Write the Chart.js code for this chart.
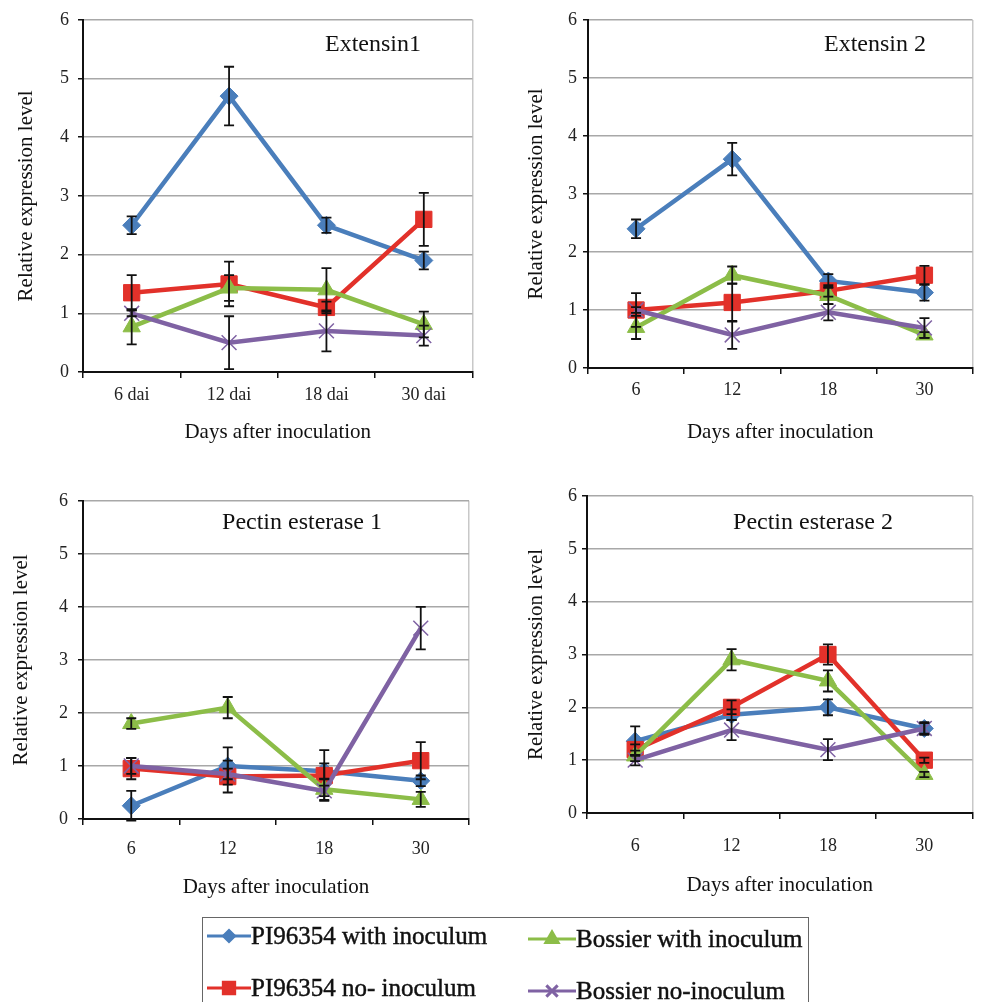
<!DOCTYPE html>
<html>
<head>
<meta charset="utf-8">
<script src="https://cdn.jsdelivr.net/npm/chart.js@4.4.1/dist/chart.umd.min.js"></script>
<style>
  body { margin: 0; background: #fff; width: 985px; height: 1002px; position: relative; overflow: hidden; font-family: 'Liberation Serif', 'Times New Roman', serif; }
  canvas.panel { position: absolute; }
  #legend { position: absolute; left: 202px; top: 917px; width: 607px; height: 100px; border: 1px solid #666; box-sizing: border-box; }
  .item { position: absolute; height: 30px; display: flex; align-items: center; font-size: 25px; color: #111; white-space: nowrap; -webkit-text-stroke: 0.45px #111; }
  .item canvas { display: block; }
</style>
</head>
<body>
<canvas id="c1" class="panel" width="485" height="450" style="left:0;top:0"></canvas>
<canvas id="c2" class="panel" width="495" height="450" style="left:490px;top:0"></canvas>
<canvas id="c3" class="panel" width="485" height="420" style="left:0;top:480px"></canvas>
<canvas id="c4" class="panel" width="495" height="420" style="left:490px;top:480px"></canvas>
<div id="legend"></div>

<script>
// categories
const daysDai = ['6 dai', '12 dai', '18 dai', '30 dai'];
const days = ['6', '12', '18', '30'];

// series
const seriesNames = ['PI96354 with inoculum', 'PI96354 no- inoculum', 'Bossier with inoculum', 'Bossier no-inoculum'];
const seriesColors = ['#4a7ebb', '#e2312a', '#8cbd48', '#7f62a3'];
const seriesStyles = ['rectRot', 'rect', 'triangle', 'crossRot'];

// Extensin1
const ext1PiInoc = [2.5, 4.7, 2.5, 1.9];
const ext1PiInocErr = [0.15, 0.5, 0.13, 0.15];
const ext1PiNo = [1.35, 1.5, 1.1, 2.6];
const ext1PiNoErr = [0.3, 0.38, 0.1, 0.45];
const ext1BosInoc = [0.77, 1.43, 1.4, 0.81];
const ext1BosInocErr = [0.3, 0.22, 0.37, 0.22];
const ext1BosNo = [1.0, 0.5, 0.7, 0.62];
const ext1BosNoErr = [0.05, 0.45, 0.35, 0.17];

// Extensin 2
const ext2PiInoc = [2.4, 3.6, 1.5, 1.3];
const ext2PiInocErr = [0.16, 0.28, 0.12, 0.14];
const ext2PiNo = [1.0, 1.13, 1.33, 1.6];
const ext2PiNoErr = [0.29, 0.33, 0.1, 0.16];
const ext2BosInoc = [0.7, 1.6, 1.25, 0.57];
const ext2BosInocErr = [0.2, 0.15, 0.15, 0.05];
const ext2BosNo = [1.0, 0.57, 0.96, 0.69];
const ext2BosNoErr = [0.05, 0.24, 0.14, 0.17];

// Pectin esterase 1
const pe1PiInoc = [0.25, 1.0, 0.9, 0.72];
const pe1PiInocErr = [0.28, 0.35, 0.15, 0.1];
const pe1PiNo = [0.95, 0.8, 0.82, 1.1];
const pe1PiNoErr = [0.2, 0.3, 0.48, 0.35];
const pe1BosInoc = [1.8, 2.1, 0.56, 0.37];
const pe1BosInocErr = [0.1, 0.2, 0.2, 0.14];
const pe1BosNo = [1.0, 0.85, 0.53, 3.6];
const pe1BosNoErr = [0.15, 0.1, 0.1, 0.4];

// Pectin esterase 2
const pe2PiInoc = [1.36, 1.86, 2.0, 1.6];
const pe2PiInocErr = [0.28, 0.1, 0.15, 0.12];
const pe2PiNo = [1.2, 2.0, 3.0, 1.0];
const pe2PiNoErr = [0.1, 0.13, 0.19, 0.05];
const pe2BosInoc = [1.08, 2.9, 2.5, 0.73];
const pe2BosInocErr = [0.1, 0.2, 0.2, 0.05];
const pe2BosNo = [1.0, 1.57, 1.2, 1.6];
const pe2BosNoErr = [0.1, 0.19, 0.2, 0.1];

const FONT = "'Liberation Serif', 'Times New Roman', serif";
const pointRadius = { rectRot: 9, rect: 11.5, triangle: 10, crossRot: 10.5 };

// black error bars drawn on top of the series
const errorBars = {
  id: 'errorBars',
  afterDatasetsDraw(chart) {
    const ctx = chart.ctx, y = chart.scales.y;
    ctx.save();
    ctx.strokeStyle = '#111';
    ctx.lineWidth = 1.8;
    chart.data.datasets.forEach((ds, di) => {
      chart.getDatasetMeta(di).data.forEach((pt, i) => {
        const top = y.getPixelForValue(ds.data[i] + ds.errors[i]);
        const bot = y.getPixelForValue(ds.data[i] - ds.errors[i]);
        ctx.beginPath();
        ctx.moveTo(pt.x, top); ctx.lineTo(pt.x, bot);
        ctx.moveTo(pt.x - 5, top); ctx.lineTo(pt.x + 5, top);
        ctx.moveTo(pt.x - 5, bot); ctx.lineTo(pt.x + 5, bot);
        ctx.stroke();
      });
    });
    ctx.restore();
  }
};

// gene name written inside the plot area
const panelTitle = {
  id: 'panelTitle',
  afterDraw(chart, args, o) {
    const ctx = chart.ctx;
    ctx.save();
    ctx.font = '24px ' + FONT;
    ctx.fillStyle = '#111';
    ctx.textAlign = 'center';
    ctx.textBaseline = 'middle';
    ctx.fillText(o.text, o.x, o.y);
    ctx.restore();
  }
};

function makePanel(id, labels, values, errors, o) {
  const datasets = values.map((v, k) => ({
    label: seriesNames[k],
    data: v,
    errors: errors[k],
    borderColor: seriesColors[k],
    backgroundColor: seriesColors[k],
    borderWidth: 4.5,
    pointStyle: seriesStyles[k],
    pointRadius: pointRadius[seriesStyles[k]],
    pointBorderWidth: seriesStyles[k] === 'crossRot' ? 1.5 : 1,
    pointBorderColor: seriesColors[k],
    pointBackgroundColor: seriesColors[k],
    tension: 0,
    order: 3 - k
  }));

  return new Chart(document.getElementById(id), {
    type: 'line',
    data: { labels: labels, datasets: datasets },
    plugins: [errorBars, panelTitle],
    options: {
      responsive: false,
      animation: false,
      devicePixelRatio: 1,
      layout: { padding: { top: o.top, right: o.right, bottom: 0, left: 0 } },
      plugins: {
        legend: { display: false },
        tooltip: { enabled: false },
        panelTitle: { text: o.title, x: o.titleX, y: o.titleY }
      },
      scales: {
        x: {
          offset: true,
          grid: {
            offset: true,
            color: c => c.type === 'tick' ? 'rgba(0,0,0,0)' : '#c8c8c8',
            lineWidth: 1.5,
            tickColor: '#111',
            tickLength: 6,
            tickWidth: 1.5
          },
          border: { color: '#111', width: 2 },
          ticks: { color: '#222', font: { family: FONT, size: 18 }, padding: o.xTickPad, maxRotation: 0 },
          title: {
            display: true, text: 'Days after inoculation', color: '#111',
            font: { family: FONT, size: 21 }, padding: { top: 0, bottom: o.xTitlePad }
          },
          afterFit: s => { s.height = o.xH; }
        },
        y: {
          min: 0, max: 6,
          ticks: { stepSize: 1, color: '#222', font: { family: FONT, size: 18 }, padding: o.yTickPad },
          grid: { color: '#a8a8a8', lineWidth: 1.5, tickColor: '#111', tickLength: 5, tickWidth: 1.5 },
          border: { color: '#111', width: 2 },
          title: {
            display: true, text: 'Relative expression level', color: '#111',
            font: { family: FONT, size: 21 }, padding: { top: o.yTitlePad, bottom: 0 }
          },
          afterFit: s => { s.width = o.yW; }
        }
      }
    }
  });
}

makePanel('c1', daysDai,
  [ext1PiInoc, ext1PiNo, ext1BosInoc, ext1BosNo],
  [ext1PiInocErr, ext1PiNoErr, ext1BosInocErr, ext1BosNoErr],
  { title: 'Extensin1', titleX: 373, titleY: 45, top: 15, right: 12, yW: 83, xH: 78,
    xTickPad: 6, xTitlePad: 5, yTickPad: 9, yTitlePad: 14 });

makePanel('c2', days,
  [ext2PiInoc, ext2PiNo, ext2BosInoc, ext2BosNo],
  [ext2PiInocErr, ext2PiNoErr, ext2BosInocErr, ext2BosNoErr],
  { title: 'Extensin 2', titleX: 385, titleY: 45, top: 20, right: 2, yW: 98, xH: 82,
    xTickPad: 5, xTitlePad: 5, yTickPad: 6, yTitlePad: 34 });

makePanel('c3', days,
  [pe1PiInoc, pe1PiNo, pe1BosInoc, pe1BosNo],
  [pe1PiInocErr, pe1PiNoErr, pe1BosInocErr, pe1BosNoErr],
  { title: 'Pectin esterase 1', titleX: 302, titleY: 43, top: 16, right: 16, yW: 83, xH: 81,
    xTickPad: 13, xTitlePad: 0, yTickPad: 10, yTitlePad: 9 });

makePanel('c4', days,
  [pe2PiInoc, pe2PiNo, pe2BosInoc, pe2BosNo],
  [pe2PiInocErr, pe2PiNoErr, pe2BosInocErr, pe2BosNoErr],
  { title: 'Pectin esterase 2', titleX: 323, titleY: 43, top: 16, right: 1, yW: 97, xH: 87,
    xTickPad: 16, xTitlePad: 2, yTickPad: 5, yTitlePad: 34 });

// legend box below the panels
const legendPos = [
  { left: 4, top: 3, w: 44 },
  { left: 4, top: 55, w: 44 },
  { left: 325, top: 6, w: 48 },
  { left: 325, top: 58, w: 48 }
];
const legendRadius = { rectRot: 5.5, rect: 8, triangle: 7, crossRot: 8 };
const legend = document.getElementById('legend');
seriesNames.forEach((name, k) => {
  const p = legendPos[k];
  const item = document.createElement('div');
  item.className = 'item';
  item.style.left = p.left + 'px';
  item.style.top = p.top + 'px';
  const icon = document.createElement('canvas');
  icon.width = p.w; icon.height = 24;
  const ctx = icon.getContext('2d');
  ctx.strokeStyle = seriesColors[k];
  ctx.fillStyle = seriesColors[k];
  ctx.lineWidth = 3;
  ctx.beginPath(); ctx.moveTo(0, 12); ctx.lineTo(p.w, 12); ctx.stroke();
  Chart.helpers.drawPoint(ctx, {
    pointStyle: seriesStyles[k], radius: legendRadius[seriesStyles[k]], rotation: 0,
    borderWidth: seriesStyles[k] === 'crossRot' ? 1.5 : 1
  }, p.w / 2, 12);
  const span = document.createElement('span');
  span.textContent = name;
  item.appendChild(icon);
  item.appendChild(span);
  legend.appendChild(item);
});
</script>
</body>
</html>
